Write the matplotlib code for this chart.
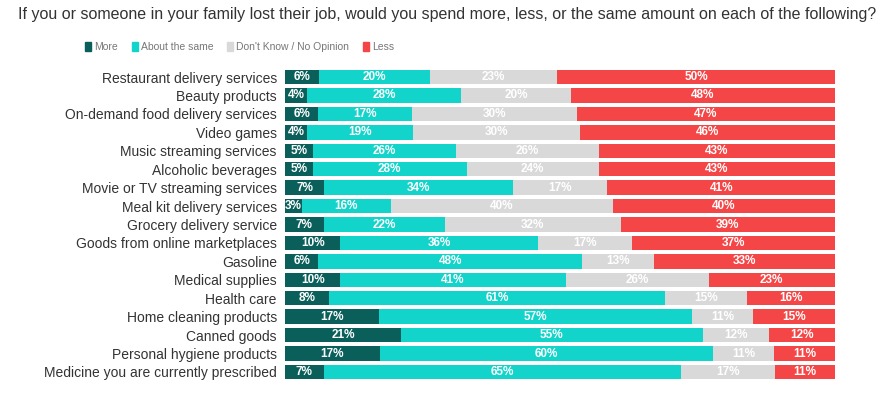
import numpy as np
import matplotlib.pyplot as plt
from matplotlib.patches import Patch

categories = [
    "Restaurant delivery services", "Beauty products", "On-demand food delivery services",
    "Video games", "Music streaming services", "Alcoholic beverages",
    "Movie or TV streaming services", "Meal kit delivery services", "Grocery delivery service",
    "Goods from online marketplaces", "Gasoline", "Medical supplies", "Health care",
    "Home cleaning products", "Canned goods", "Personal hygiene products",
    "Medicine you are currently prescribed",
]
more = [6, 4, 6, 4, 5, 5, 7, 3, 7, 10, 6, 10, 8, 17, 21, 17, 7]
same = [20, 28, 17, 19, 26, 28, 34, 16, 22, 36, 48, 41, 61, 57, 55, 60, 65]
dunno = [23, 20, 30, 30, 26, 24, 17, 40, 32, 17, 13, 26, 15, 11, 12, 11, 17]
less = [50, 48, 47, 46, 43, 43, 41, 40, 39, 37, 33, 23, 16, 15, 12, 11, 11]

series = ["More", "About the same", "Don't Know / No Opinion", "Less"]
colors = ["#0b5f5b", "#12d4ca", "#d9d9d9", "#f44646"]

data = np.array([more, same, dunno, less], dtype=float)
shares = data / data.sum(axis=0) * 100   # every bar fills the full width

fig = plt.figure(figsize=(8.94, 3.93), dpi=100)
ax = fig.add_axes([0.319, 0.030, 0.615, 0.7975])

y = np.arange(len(categories))
left = np.zeros(len(categories))
for vals, pct, col in zip(data, shares, colors):
    ax.barh(y, pct, left=left, height=0.78, color=col, edgecolor='none')
    for yi, (l, w, v) in enumerate(zip(left, pct, vals)):
        ax.text(l + w / 2, yi, f"{int(v)}%", ha='center', va='center',
                color='white', fontsize=8.5, fontweight='bold',
                family=['Liberation Sans', 'DejaVu Sans'])
    left += pct

ax.set_xlim(0, 100)
ax.set_ylim(len(categories) - 0.5, -0.5)
ax.set_yticks(y)
ax.set_yticklabels(categories, fontsize=10, color='#333333',
                   family=['Liberation Sans', 'DejaVu Sans'])
ax.tick_params(axis='y', length=0, pad=6)
ax.set_xticks([])
for s in ax.spines.values():
    s.set_visible(False)

fam = ['Liberation Sans', 'DejaVu Sans']
fig.text(0.5, 0.962, "If you or someone in your family lost their job, would you spend more, less, "
         "or the same amount on each of the following?", ha='center', va='center',
         fontsize=11.5, color='#333333', family=fam)

handles = [Patch(color=c) for c in colors]
fig.legend(handles, series, loc='center', bbox_to_anchor=(0.268, 0.88), ncol=4,
           frameon=False, handlelength=0.6, handleheight=0.9,
           handletextpad=0.3, columnspacing=1.3, labelcolor='#777777',
           prop={'family': fam, 'size': 7.5})

fig.savefig('out.png', dpi=100)
